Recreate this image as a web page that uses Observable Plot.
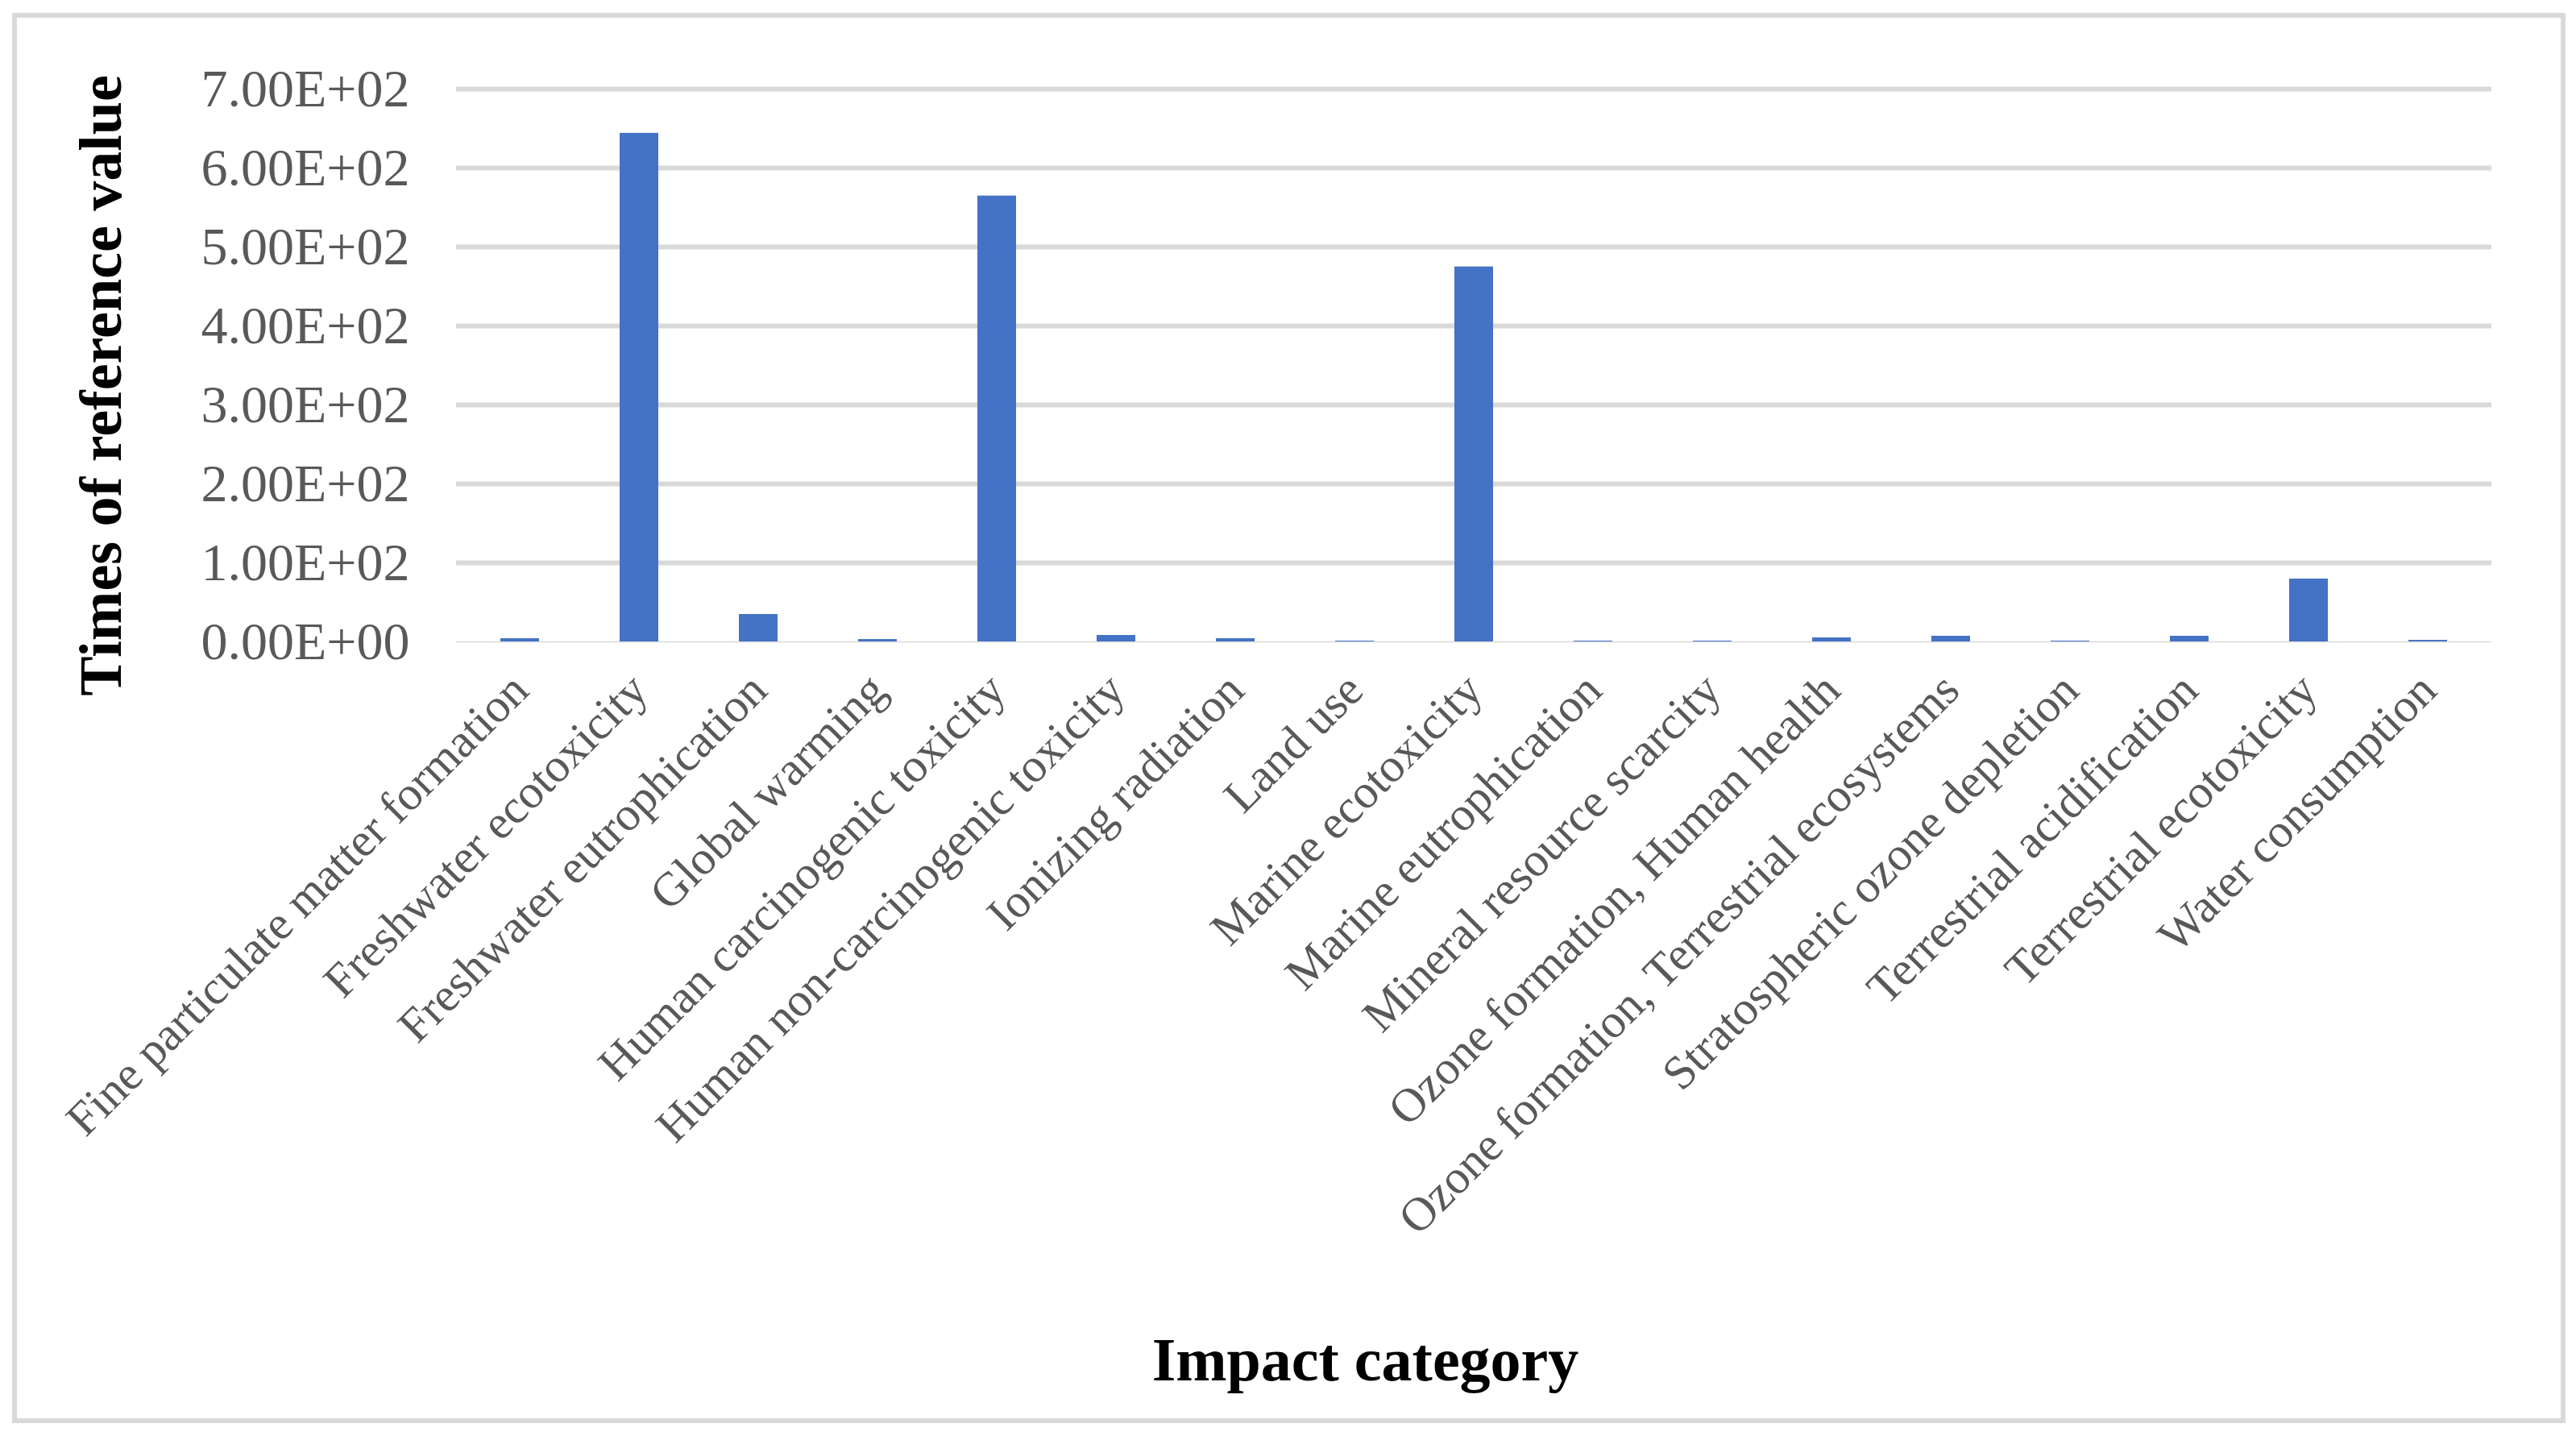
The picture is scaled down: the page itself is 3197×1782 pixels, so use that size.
<!DOCTYPE html>
<html>
<head>
<meta charset="utf-8">
<script src="https://cdn.jsdelivr.net/npm/d3@7"></script>
<script src="https://cdn.jsdelivr.net/npm/@observablehq/plot@0.6"></script>
<style>
  html, body { margin: 0; padding: 0; background: #ffffff; }
  #wrap { position: relative; width: 3197px; height: 1782px; }
  #frame { position: absolute; left: 15px; top: 16px; width: 3157px; height: 1738px; border: 6px solid #d9d9d9; pointer-events: none; }
</style>
</head>
<body>
<div id="wrap"><div id="frame"></div></div>
<script>
const categories = [
  "Fine particulate matter formation",
  "Freshwater ecotoxicity",
  "Freshwater eutrophication",
  "Global warming",
  "Human carcinogenic toxicity",
  "Human non-carcinogenic toxicity",
  "Ionizing radiation",
  "Land use",
  "Marine ecotoxicity",
  "Marine eutrophication",
  "Mineral resource scarcity",
  "Ozone formation, Human health",
  "Ozone formation, Terrestrial ecosystems",
  "Stratospheric ozone depletion",
  "Terrestrial acidification",
  "Terrestrial ecotoxicity",
  "Water consumption"
];
const values = [4.1, 644, 34.7, 3.0, 564.6, 8.2, 4.1, 1.0, 474.8, 1.0, 1.0, 5.1, 7.2, 1.0, 7.2, 79.6, 2.0];
const yTicks = [0, 100, 200, 300, 400, 500, 600, 700];
const gridTicks = [100, 200, 300, 400, 500, 600, 700];
const yTitle = "Times of reference value";
const xTitle = "Impact category";

const data = categories.map((c, i) => ({category: c, value: values[i]}));

function sci(d) {
  const [m, e] = d.toExponential(2).split("e");
  const sign = e[0] === "-" ? "-" : "+";
  const digits = e.replace(/^[+-]/, "").padStart(2, "0");
  return m + "E" + sign + digits;
}

const chart = Plot.plot({
  width: 3197,
  height: 1782,
  marginLeft: 566,
  marginRight: 105,
  marginTop: 110,
  marginBottom: 986,
  style: {fontFamily: "'Liberation Serif', 'Times New Roman', serif", background: "transparent", overflow: "visible"},
  x: {type: "band", domain: categories, paddingInner: 0.677, paddingOuter: 0.3385},
  y: {domain: [0, 700]},
  marks: [
    Plot.gridY(gridTicks, {stroke: "#d9d9d9", strokeWidth: 6, strokeOpacity: 1}),
    Plot.ruleY([0], {stroke: "#d9d9d9", strokeWidth: 1.5}),
    Plot.barY(data, {x: "category", y: "value", fill: "#4472C4"}),
    Plot.axisY({ticks: yTicks, tickFormat: sci, tickSize: 0, tickPadding: 58, fontSize: 66, fill: "#595959", label: null}),
    Plot.axisX({tickRotate: -45, tickSize: 0, tickPadding: 50, fontSize: 59, fill: "#595959", label: null}),
    Plot.text([yTitle], {text: d => d, frameAnchor: "left", rotate: -90, dx: -440, dy: 25, fontSize: 74, fontWeight: "bold", fill: "#000000", textAnchor: "middle", lineAnchor: "middle"}),
    Plot.text([xTitle], {text: d => d, frameAnchor: "bottom", dx: -135, dy: 892, fontSize: 76, fontWeight: "bold", fill: "#000000", textAnchor: "middle", lineAnchor: "middle"})
  ]
});
chart.style.position = "absolute";
chart.style.left = "0px";
chart.style.top = "0px";
document.getElementById("wrap").appendChild(chart);
</script>
</body>
</html>
